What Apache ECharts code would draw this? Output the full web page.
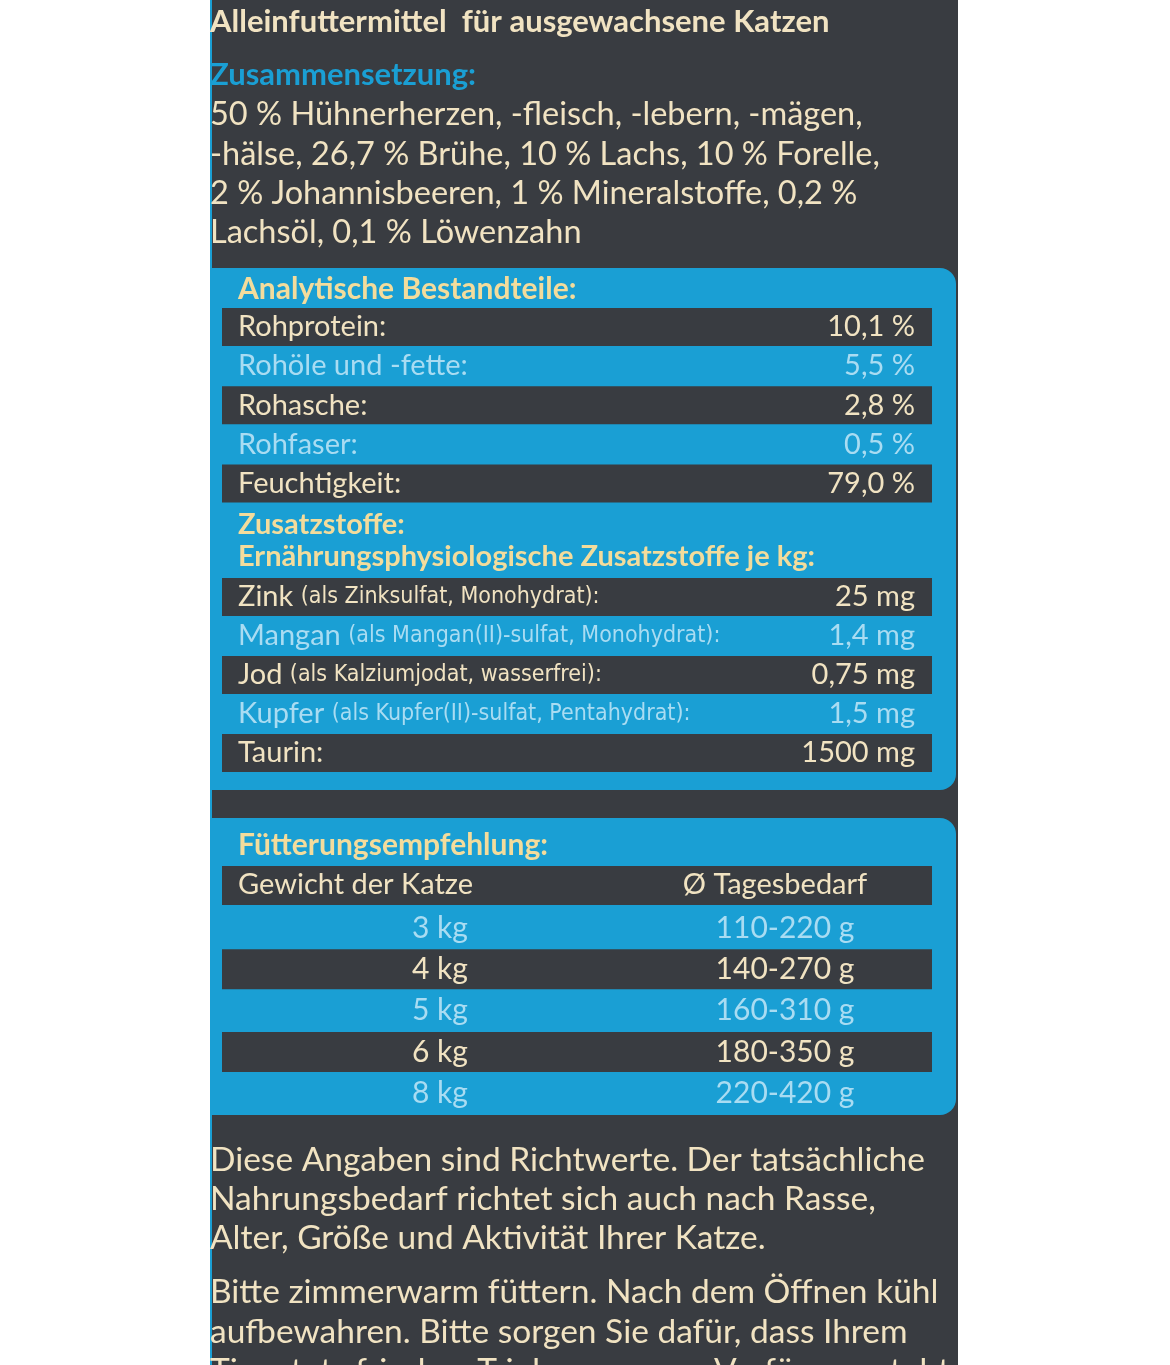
<!DOCTYPE html>
<html lang="de">
<head>
<meta charset="UTF-8">
<title>Katzenfutter Etikett</title>
<script src="https://cdn.jsdelivr.net/npm/echarts@6/dist/echarts.min.js"></script>
<style>
  *{margin:0;padding:0;box-sizing:border-box;}
  html,body{width:1170px;height:1365px;background:#fff;overflow:hidden;}
  #main{width:1170px;height:1365px;}
</style>
</head>
<body>
<div id="main"></div>
<script>
// Inhalte
var titleText = "Alleinfuttermittel  für ausgewachsene Katzen";
var compHead = "Zusammensetzung:";
var compLines = [
  "50 % Hühnerherzen, -fleisch, -lebern, -mägen,",
  "-hälse, 26,7 % Brühe, 10 % Lachs, 10 % Forelle,",
  "2 % Johannisbeeren, 1 % Mineralstoffe, 0,2 %",
  "Lachsöl, 0,1 % Löwenzahn"
];
var anaHead = "Analytische Bestandteile:";
var anaLabels = ["Rohprotein:", "Rohöle und -fette:", "Rohasche:", "Rohfaser:", "Feuchtigkeit:"];
var anaValues = ["10,1 %", "5,5 %", "2,8 %", "0,5 %", "79,0 %"];
var addHead = ["Zusatzstoffe:", "Ernährungsphysiologische Zusatzstoffe je kg:"];
var addNames = ["Zink", "Mangan", "Jod", "Kupfer", "Taurin:"];
var addNotes = ["(als Zinksulfat, Monohydrat):", "(als Mangan(II)-sulfat, Monohydrat):", "(als Kalziumjodat, wasserfrei):", "(als Kupfer(II)-sulfat, Pentahydrat):", ""];
var addValues = ["25 mg", "1,4 mg", "0,75 mg", "1,5 mg", "1500 mg"];
var feedHead = "Fütterungsempfehlung:";
var feedCols = ["Gewicht der Katze", "Ø Tagesbedarf"];
var feedWeights = ["3 kg", "4 kg", "5 kg", "6 kg", "8 kg"];
var feedAmounts = ["110-220 g", "140-270 g", "160-310 g", "180-350 g", "220-420 g"];
var noteLines = [
  "Diese Angaben sind Richtwerte. Der tatsächliche",
  "Nahrungsbedarf richtet sich auch nach Rasse,",
  "Alter, Größe und Aktivität Ihrer Katze.",
  "Bitte zimmerwarm füttern. Nach dem Öffnen kühl",
  "aufbewahren. Bitte sorgen Sie dafür, dass Ihrem",
  "Tier stets frisches Trinkwasser zur Verfügung steht."
];

var DARK = "#393c41", CYAN = "#1a9fd4", CREAM = "#f1e3c2", HEAD = "#f3dc9c", LIGHT = "#a9dcf2";
var FONT = "Lato";

function txt(x, y, s, o) {
  o = o || {};
  return {type: "text", x: x, y: y, z: 10,
    style: {text: s, fill: o.fill || CREAM, font: (o.weight || "normal") + " " + (o.size || 31) + "px " + FONT,
      textAlign: o.align || "left", textVerticalAlign: "middle", rich: o.rich}};
}
function rect(x, y, w, h, fill, r) {
  return {type: "rect", shape: {x: x, y: y, width: w, height: h, r: r || 0}, style: {fill: fill}, z: 1};
}

var g = [];
g.push(rect(210, 0, 748, 1365, DARK));
g.push(rect(210, 0, 2, 1365, CYAN));
g.push(txt(210, 22, titleText, {weight: "bold", size: 31}));
g.push(txt(210, 75, compHead, {fill: CYAN, weight: "bold", size: 31}));
compLines.forEach(function (l, i) { g.push(txt(210, 115 + i * 39.2, l, {size: 32.5})); });

// Analytische Bestandteile
g.push(rect(210, 268, 746, 522, CYAN, [0, 16, 16, 0]));
g.push(txt(238, 289, anaHead, {weight: "bold", size: 30, fill: HEAD}));
anaLabels.forEach(function (l, i) {
  var y = 327 + i * 39.1, dark = i % 2 === 0;
  if (dark) g.push(rect(222, y - 19, 710, 38, DARK));
  g.push(txt(238, y, l, {size: 29, fill: dark ? CREAM : LIGHT}));
  g.push(txt(915, y, anaValues[i], {size: 29, fill: dark ? CREAM : LIGHT, align: "right"}));
});
g.push(txt(238, 525, addHead[0], {weight: "bold", size: 29, fill: HEAD}));
g.push(txt(238, 557, addHead[1], {weight: "bold", size: 29, fill: HEAD}));
addNames.forEach(function (l, i) {
  var y = 597 + i * 39, dark = i % 2 === 0, c = dark ? CREAM : LIGHT;
  if (dark) g.push(rect(222, y - 19, 710, 38, DARK));
  var s = addNotes[i] ? "{a|" + l + "} {b|" + addNotes[i] + "}" : "{a|" + l + "}";
  g.push(txt(238, y, s, {size: 29, fill: c, rich: {
    a: {fontFamily: FONT, fontSize: 29, fill: c},
    b: {fontFamily: "DejaVu Sans Condensed", fontSize: 23, fill: c}}}));
  g.push(txt(915, y, addValues[i], {size: 29, fill: c, align: "right"}));
});

// Fütterungsempfehlung
g.push(rect(210, 818, 746, 297, CYAN, [0, 16, 16, 0]));
g.push(txt(238, 845, feedHead, {weight: "bold", size: 30, fill: HEAD}));
g.push(rect(222, 866, 710, 39, DARK));
g.push(txt(238, 885, feedCols[0], {size: 29}));
g.push(txt(775, 885, feedCols[1], {size: 29, align: "center"}));
feedWeights.forEach(function (w, i) {
  var y = 928 + i * 41.3, dark = i % 2 === 1, c = dark ? CREAM : LIGHT;
  if (dark) g.push(rect(222, y - 20, 710, 40, DARK));
  g.push(txt(440, y, w, {size: 30, fill: c, align: "center"}));
  g.push(txt(785, y, feedAmounts[i], {size: 30, fill: c, align: "center"}));
});

noteLines.forEach(function (l, i) {
  var y = 1160 + i * 39.2 + (i >= 3 ? 15 : 0);
  g.push(txt(210, y, l, {size: 33.5}));
});

var chart = echarts.init(document.getElementById("main"));
chart.setOption({animation: false, backgroundColor: "#ffffff", graphic: {elements: g}});
</script>
</body>
</html>
